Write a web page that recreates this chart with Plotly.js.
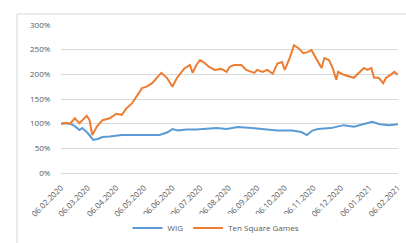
<!DOCTYPE html>
<html>
<head>
<meta charset="utf-8">
<script src="https://cdn.plot.ly/plotly-3.0.1.min.js"></script>
<style>html,body{margin:0;padding:0;background:#fff;}#chart{width:406px;height:243px;}</style>
</head>
<body>
<div id="chart"></div>
<script>
const tsgDates = ["2020-02-06","2020-02-11","2020-02-16","2020-02-21","2020-02-26","2020-03-03","2020-03-05","2020-03-08","2020-03-11","2020-03-16","2020-03-19","2020-03-22","2020-03-30","2020-04-06","2020-04-12","2020-04-17","2020-04-23","2020-04-29","2020-05-04","2020-05-09","2020-05-15","2020-05-21","2020-05-25","2020-05-31","2020-06-03","2020-06-06","2020-06-11","2020-06-16","2020-06-19","2020-06-25","2020-06-28","2020-07-02","2020-07-06","2020-07-11","2020-07-16","2020-07-22","2020-07-29","2020-08-04","2020-08-07","2020-08-12","2020-08-20","2020-08-25","2020-08-31","2020-09-03","2020-09-06","2020-09-12","2020-09-17","2020-09-23","2020-09-28","2020-10-03","2020-10-06","2020-10-12","2020-10-16","2020-10-21","2020-10-26","2020-10-31","2020-11-04","2020-11-12","2020-11-15","2020-11-18","2020-11-23","2020-11-27","2020-12-01","2020-12-03","2020-12-09","2020-12-20","2020-12-25","2020-12-31","2021-01-04","2021-01-08","2021-01-11","2021-01-16","2021-01-21","2021-01-24","2021-01-29","2021-02-02","2021-02-06"];
const tsgValues = [100,102,100,111,101,114,116,107,77,94,100,107,111,120,118,131,141,158,172,175,182,195,203,193,185,175,193,205,212,219,203,219,229,223,215,209,211,205,215,219,219,209,205,203,209,205,209,201,222,225,209,236,259,253,243,245,249,223,213,233,229,213,189,205,199,193,203,213,209,213,193,193,182,193,199,205,199];

const wigDates = ["2020-02-06","2020-02-11","2020-02-16","2020-02-21","2020-02-26","2020-02-29","2020-03-06","2020-03-10","2020-03-12","2020-03-17","2020-03-22","2020-03-30","2020-04-12","2020-04-23","2020-05-05","2020-05-15","2020-05-23","2020-05-31","2020-06-06","2020-06-12","2020-06-21","2020-07-02","2020-07-13","2020-07-24","2020-08-04","2020-08-16","2020-08-31","2020-09-14","2020-09-28","2020-10-14","2020-10-24","2020-10-30","2020-11-05","2020-11-11","2020-11-25","2020-12-09","2020-12-20","2020-12-30","2021-01-09","2021-01-17","2021-01-28","2021-02-06"];
const wigValues = [100,101,100,95,87,91,81,71,67,69,73,74,77,77,77,76,77,82,89,86,88,88,89,91,89,93,91,88,86,86,83,77,86,89,91,97,94,99,104,99,97,99];

const tickDates = ["2020-02-06","2020-03-06","2020-04-06","2020-05-06","2020-06-06","2020-07-06","2020-08-06","2020-09-06","2020-10-06","2020-11-06","2020-12-06","2021-01-06","2021-02-06"];
const tickLabels = ["06.02.2020","06.03.2020","06.04.2020","06.05.2020","06.06.2020","06.07.2020","06.08.2020","06.09.2020","06.10.2020","06.11.2020","06.12.2020","06.01.2021","06.02.2021"];
const yTicks = [0,50,100,150,200,250,300];
const yLabels = yTicks.map(v => v + "%");

const font = {family: "Open Sans, Noto Sans, sans-serif", size: 8, color: "#595959"};

const traces = [
  {x: wigDates, y: wigValues, type: "scatter", mode: "lines", name: "WIG",
   line: {color: "#5b9bd5", width: 2}},
  {x: tsgDates, y: tsgValues, type: "scatter", mode: "lines", name: "Ten Square Games",
   line: {color: "#ed7d31", width: 2}}
];

const layout = {
  width: 406, height: 243,
  margin: {l: 61, r: 8, t: 25, b: 70, autoexpand: false},
  paper_bgcolor: "#fff", plot_bgcolor: "#fff",
  font: font,
  showlegend: true,
  legend: {orientation: "h", x: 0.46, xanchor: "center", y: -0.372, yanchor: "middle",
           font: {family: font.family, size: 8, color: "#595959"}, itemwidth: 30, tracegroupgap: 0},
  xaxis: {type: "date", range: ["2020-02-06", "2021-02-06"], tickmode: "array", automargin: false,
          tickvals: tickDates, ticktext: tickLabels, tickangle: -45,
          showgrid: false, zeroline: false, showline: true, linecolor: "#d9d9d9", linewidth: 1,
          ticks: "outside", ticklen: 6, tickcolor: "rgba(0,0,0,0)", tickfont: font},
  yaxis: {range: [0, 300], tickmode: "array", tickvals: yTicks, ticktext: yLabels, automargin: false,
          showgrid: true, gridcolor: "#d9d9d9", gridwidth: 1, zeroline: false,
          showline: false, ticks: "outside", ticklen: 8, tickcolor: "rgba(0,0,0,0)", tickfont: font},
  shapes: [
    {type: "line", xref: "paper", yref: "paper", x0: -0.1306, x1: 1.1, y0: 1.0743, y1: 1.0743,
     line: {color: "#d9d9d9", width: 1}},
    {type: "line", xref: "paper", yref: "paper", x0: -0.1306, x1: -0.1306, y0: 1.0743, y1: -0.6,
     line: {color: "#d9d9d9", width: 1}}
  ]
};

Plotly.newPlot("chart", traces, layout, {displayModeBar: false, staticPlot: true});
</script>
</body>
</html>
